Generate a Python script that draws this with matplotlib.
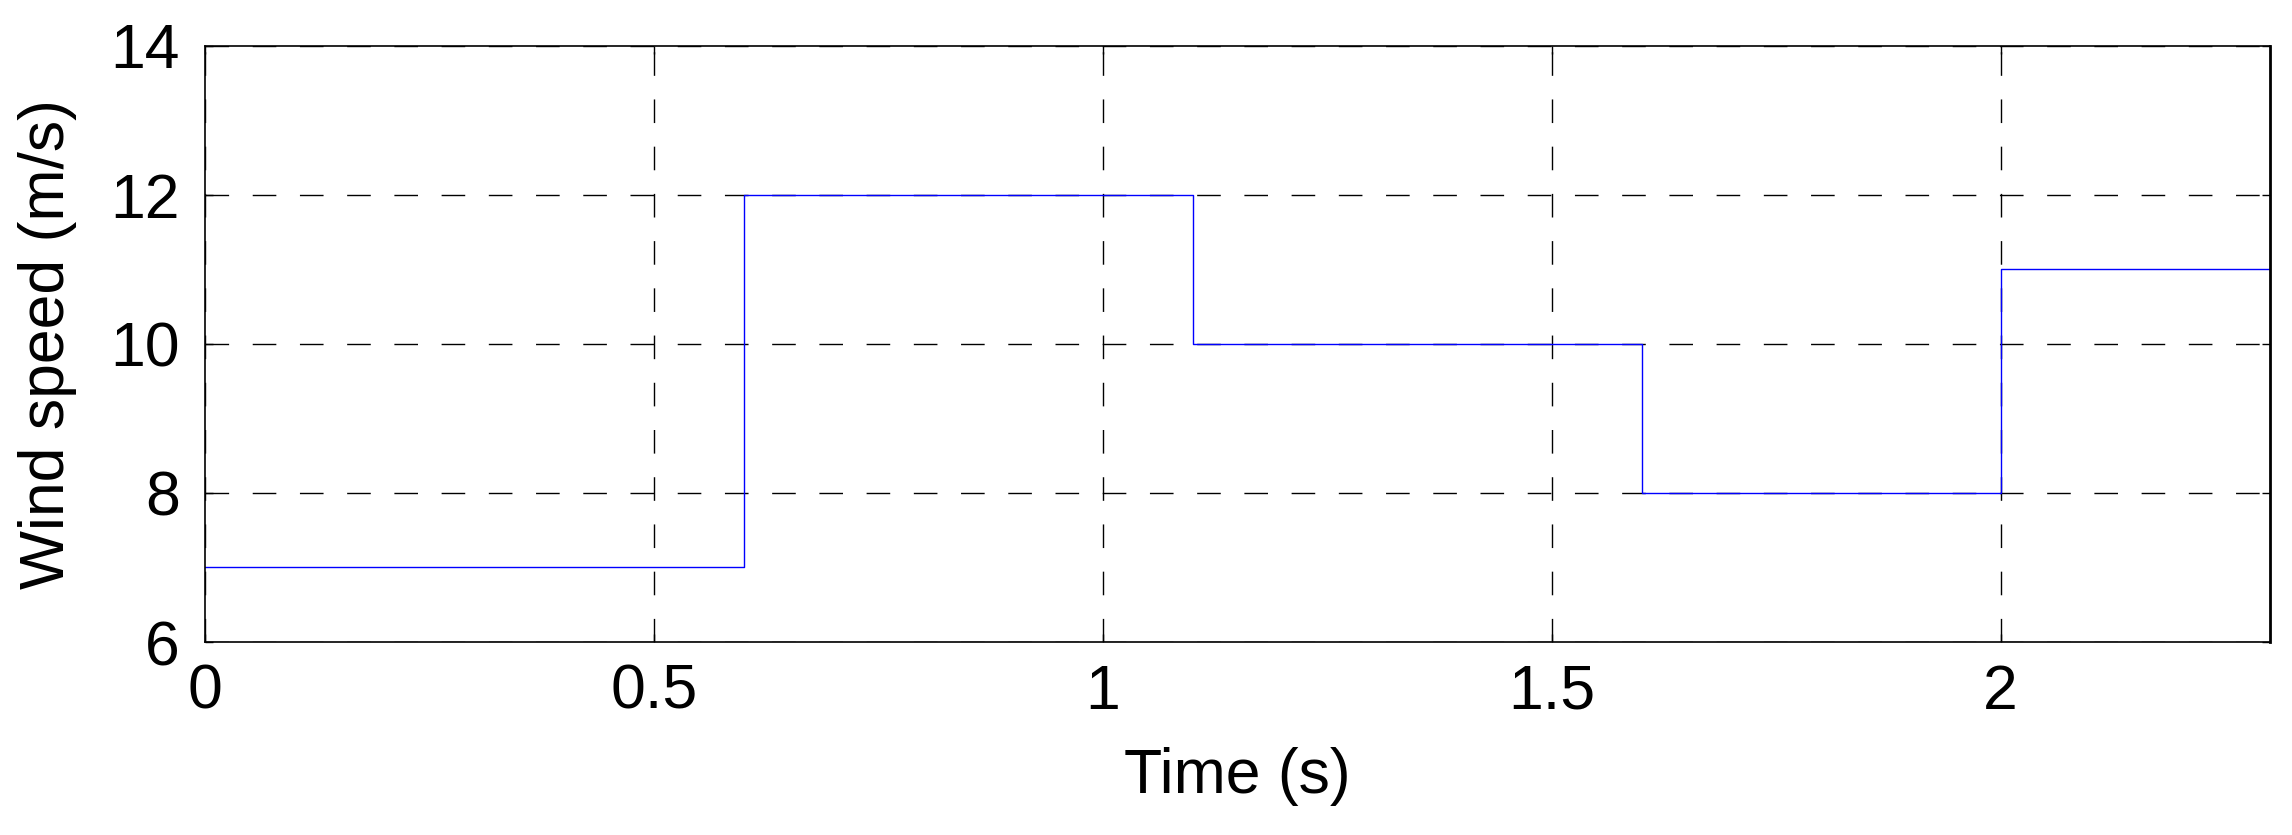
import matplotlib
matplotlib.use("Agg")
import matplotlib.pyplot as plt

# Data
times = [0, 0.6, 1.1, 1.6, 2.0, 2.3]
speeds = [7, 12, 10, 8, 11, 11]
xticks = [0, 0.5, 1, 1.5, 2]
xticklabels = ["0", "0.5", "1", "1.5", "2"]
yticks = [6, 8, 10, 12, 14]
yticklabels = ["6", "8", "10", "12", "14"]

plt.rcParams['font.family'] = ['Liberation Sans', 'DejaVu Sans']

fig = plt.figure(figsize=(22.92, 8.35), dpi=100)
ax = fig.add_axes([205/2292, 1-642/835, (2270-205)/2292, (642-45.5)/835])

ax.step(times, speeds, where='post', color='#0000ff', lw=1.0)

ax.set_xlim(0, 2.3)
ax.set_ylim(6, 14)
ax.set_xticks(xticks)
ax.set_xticklabels(xticklabels)
ax.set_yticks(yticks)
ax.set_yticklabels(yticklabels)

ax.grid(True, color='black', lw=1.0, linestyle=(0, (17, 17)))
ax.tick_params(direction='in', length=6, width=1.0, labelsize=45,
               top=True, right=True, pad=15)
ax.tick_params(axis='y', pad=18)
for s in ax.spines.values():
    s.set_linewidth(1.2)
ax.spines['right'].set_linewidth(2.0)

ax.set_xlabel("Time (s)", fontsize=45, labelpad=18)
ax.set_ylabel("Wind speed (m/s)", fontsize=45, labelpad=24)

fig.savefig("out.png", dpi=100, facecolor='white')
